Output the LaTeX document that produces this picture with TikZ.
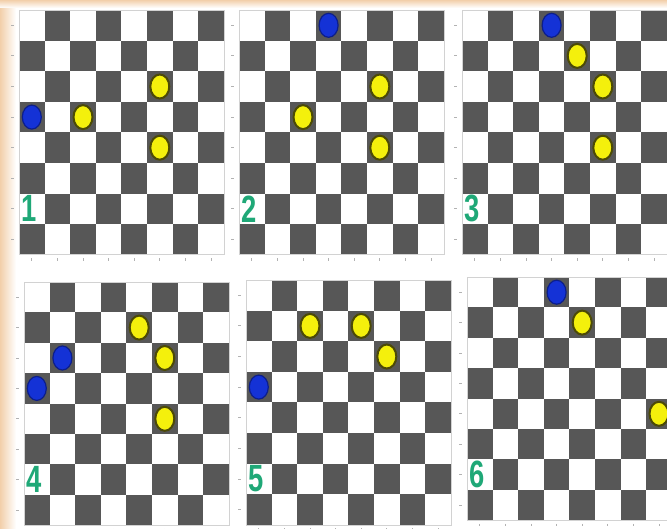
\documentclass[tikz,border=0pt]{standalone}
\usepackage{tikz}
\usepackage{xcolor}
\usepackage{fontspec}
\setsansfont{Liberation Sans}
\usetikzlibrary{
    positioning,
    calc,
    shapes.geometric
}
\definecolor{CasaEscura}{HTML}{575757}
\definecolor{PecaAzul}{HTML}{1432D6}
\definecolor{BordaAzul}{HTML}{0C1E8A}
\definecolor{PecaAmarela}{HTML}{F4F00C}
\definecolor{BordaAmarela}{HTML}{4C4A06}
\definecolor{VerdeNumero}{HTML}{1FA877}
\definecolor{Pessego}{HTML}{F2CFAA}

\tikzset{
    casa/.style={fill=CasaEscura},
    moldura/.style={draw=gray!35, line width=0.6pt},
    marca/.style={draw=gray!60, line width=0.8pt},
    pecaazul/.style={
        ellipse,
        fill=PecaAzul,
        draw=BordaAzul,
        line width=1.2pt,
        minimum width=19pt,
        minimum height=24pt,
        inner sep=0pt
    },
    pecaamarela/.style={
        ellipse,
        fill=PecaAmarela,
        draw=BordaAmarela,
        line width=2pt,
        minimum width=19pt,
        minimum height=24pt,
        inner sep=0pt
    },
    numero/.style={
        text=VerdeNumero,
        fill=white,
        inner sep=0.5pt,
        font=\sffamily\bfseries\fontsize{38}{38}\selectfont,
        xscale=0.72
    }
}

% tabuleiro 8x8: #1 = x, #2 = y (canto superior esquerdo), #3 = altura da casa
\newcommand{\tabuleiro}[3]{%
    \begin{scope}[shift={(#1,#2)}, x=25.6pt, y=-#3pt]
        \fill[white] (0,0) rectangle (8,8);
        \foreach \l in {1,...,8}
            \foreach \c in {1,...,8}{
                \pgfmathtruncatemacro{\soma}{\l+\c}
                \ifodd\soma
                    \fill[casa] (\c-1,\l-1) rectangle (\c,\l);
                \fi
            }
        \draw[moldura] (0,0) rectangle (8,8);
        \foreach \l in {1,...,8}
            \draw[marca] (-0.3,\l-0.5) -- (-0.2,\l-0.5);
        \foreach \c in {1,...,8}
            \draw[marca] (\c-0.5,8.12) -- (\c-0.5,8.2);
    \end{scope}%
}

\begin{document}
\begin{tikzpicture}[x=1pt, y=-1pt]
    \useasboundingbox (0,0) rectangle (667,529);
    \clip (0,0) rectangle (667,529);

    % fundo
    \fill[white] (0,0) rectangle (667,529);
    \shade[left color=Pessego, right color=white] (0,0) rectangle (16,529);
    \shade[top color=Pessego, bottom color=white] (0,0) rectangle (667,8);

    % 1
    \tabuleiro{19}{10}{30.6}
    \begin{scope}[shift={(19,10)}, x=25.6pt, y=-30.6pt]
        \node[pecaazul] (t1azul) at (0.5,3.5) {};
        \node[pecaamarela] (t1amarelaA) at (2.5,3.5) {};
        \node[pecaamarela] (t1amarelaB) at (5.5,2.5) {};
        \node[pecaamarela] (t1amarelaC) at (5.5,4.5) {};
        \node[numero] (t1num) at (0.4,6.5) {1};
    \end{scope}

    % 2
    \tabuleiro{239}{10}{30.6}
    \begin{scope}[shift={(239,10)}, x=25.6pt, y=-30.6pt]
        \node[pecaazul] (t2azul) at (3.5,0.5) {};
        \node[pecaamarela] (t2amarelaA) at (2.5,3.5) {};
        \node[pecaamarela] (t2amarelaB) at (5.5,2.5) {};
        \node[pecaamarela] (t2amarelaC) at (5.5,4.5) {};
        \node[numero] (t2num) at (0.4,6.5) {2};
    \end{scope}

    % 3
    \tabuleiro{462}{10}{30.6}
    \begin{scope}[shift={(462,10)}, x=25.6pt, y=-30.6pt]
        \node[pecaazul] (t3azul) at (3.5,0.5) {};
        \node[pecaamarela] (t3amarelaA) at (4.5,1.5) {};
        \node[pecaamarela] (t3amarelaB) at (5.5,2.5) {};
        \node[pecaamarela] (t3amarelaC) at (5.5,4.5) {};
        \node[numero] (t3num) at (0.4,6.5) {3};
    \end{scope}

    % 4
    \tabuleiro{24}{282}{30.4}
    \begin{scope}[shift={(24,282)}, x=25.6pt, y=-30.4pt]
        \node[pecaazul] (t4azulA) at (1.5,2.5) {};
        \node[pecaazul] (t4azulB) at (0.5,3.5) {};
        \node[pecaamarela] (t4amarelaA) at (4.5,1.5) {};
        \node[pecaamarela] (t4amarelaB) at (5.5,2.5) {};
        \node[pecaamarela] (t4amarelaC) at (5.5,4.5) {};
        \node[numero] (t4num) at (0.4,6.5) {4};
    \end{scope}

    % 5
    \tabuleiro{246}{280}{30.6}
    \begin{scope}[shift={(246,280)}, x=25.6pt, y=-30.6pt]
        \node[pecaazul] (t5azul) at (0.5,3.5) {};
        \node[pecaamarela] (t5amarelaA) at (2.5,1.5) {};
        \node[pecaamarela] (t5amarelaB) at (4.5,1.5) {};
        \node[pecaamarela] (t5amarelaC) at (5.5,2.5) {};
        \node[numero] (t5num) at (0.4,6.5) {5};
    \end{scope}

    % 6
    \tabuleiro{467}{277}{30.4}
    \begin{scope}[shift={(467,277)}, x=25.6pt, y=-30.4pt]
        \node[pecaazul] (t6azul) at (3.5,0.5) {};
        \node[pecaamarela] (t6amarelaA) at (4.5,1.5) {};
        \node[pecaamarela] (t6amarelaB) at (7.5,4.5) {};
        \node[numero] (t6num) at (0.4,6.5) {6};
    \end{scope}
\end{tikzpicture}
\end{document}
